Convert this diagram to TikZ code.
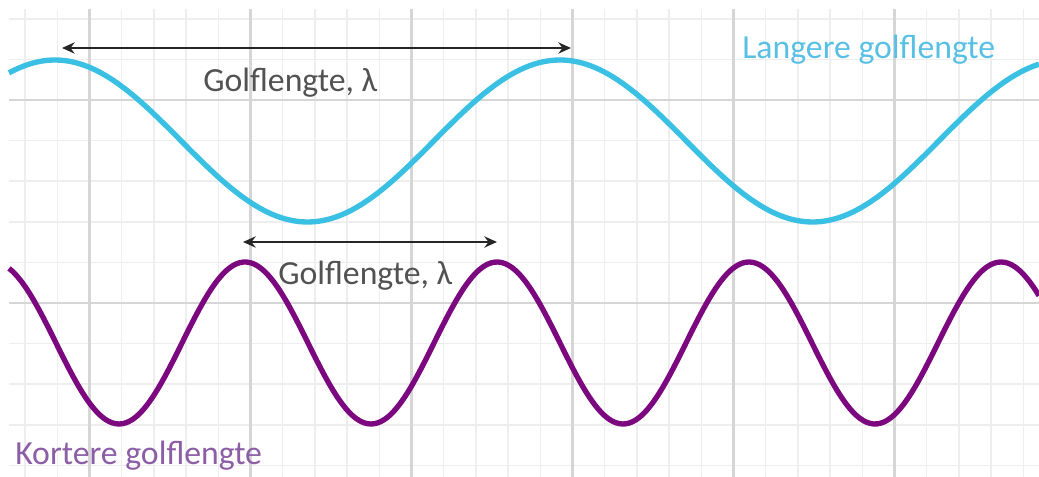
\documentclass[tikz,border=0pt]{standalone}
\usepackage{fontspec}
\setmainfont{Carlito}
\usetikzlibrary{arrows.meta, positioning}
\definecolor{longblue}{RGB}{58,192,226}
\definecolor{longlabel}{RGB}{88,192,228}
\definecolor{shortpurple}{RGB}{124,8,128}
\definecolor{shortlabel}{RGB}{140,94,166}
\definecolor{dimgray}{RGB}{38,38,38}
\definecolor{textgray}{RGB}{82,82,82}
\definecolor{gridminor}{RGB}{238,238,238}
\definecolor{gridmajor}{RGB}{214,214,214}
\tikzset{
  minorline/.style = {draw=gridminor, line width=1.1pt},
  majorline/.style = {draw=gridmajor, line width=1.7pt},
  wave/.style      = {line width=3.8pt, samples=300, smooth},
  dimarr/.style    = {{Stealth[length=9pt,width=8pt]}-{Stealth[length=9pt,width=8pt]},
                      line width=1.7pt, color=dimgray},
  lbl/.style       = {font=\fontsize{24}{28}\selectfont, inner sep=0pt, anchor=base west},
}

\begin{document}
\begin{tikzpicture}[x=0.025cm, y=-0.025cm]
  \useasboundingbox (0,0) rectangle (1039,477);

  % grid paper
  \begin{scope}
    \clip (9,9) rectangle (1039,477);
    \foreach \k in {-2,...,29}
      \draw[minorline] ({89.5+32.2*\k},9) -- ({89.5+32.2*\k},477);
    \foreach \k in {-2,...,9}
      \draw[minorline] (9,{100+40.6*\k}) -- (1039,{100+40.6*\k});
    \foreach \k in {0,...,5}
      \draw[majorline] ({89.5+161*\k},9) -- ({89.5+161*\k},477);
    \foreach \k in {0,1}
      \draw[majorline] (9,{100+203*\k}) -- (1039,{100+203*\k});
  \end{scope}

  % the two waves
  \draw[wave, longblue] plot[domain=9:1039] (\x,{141-81*cos((\x-55)/505*360)});
  \draw[wave, shortpurple] plot[domain=9:1039] (\x,{343-81*cos((\x-245)/252*360)});

  % wavelength markers
  \coordinate (longA) at (62,48);
  \coordinate (longB) at (571,48);
  \coordinate (shortA) at (243,242);
  \coordinate (shortB) at (497,242);
  \draw[dimarr] (longA) -- (longB);
  \draw[dimarr] (shortA) -- (shortB);

  \node[lbl, textgray] (lambdalong) at (203,92) {Golflengte, λ};
  \node[lbl, textgray] (lambdashort) at (278,285) {Golflengte, λ};
  \node[lbl, longlabel] (longname) at (742,59) {Langere golflengte};
  \node[lbl, shortlabel] (shortname) at (15,465) {Kortere golflengte};
\end{tikzpicture}
\end{document}
